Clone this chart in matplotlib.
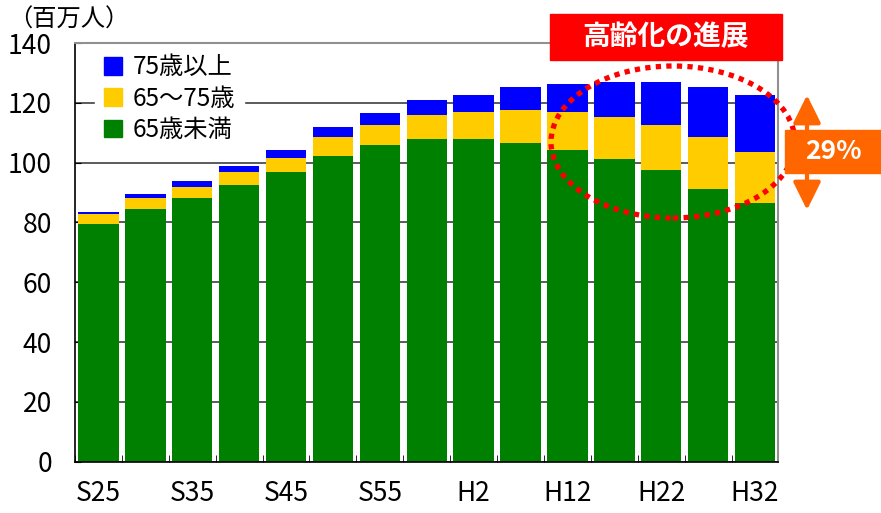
import numpy as np
import matplotlib
matplotlib.use('Agg')
import matplotlib.pyplot as plt
from matplotlib.patches import Patch, Rectangle, Ellipse, FancyArrowPatch

plt.rcParams['font.family'] = ['Liberation Sans Narrow', 'Noto Sans CJK JP', 'DejaVu Sans']

# =============================================================================
# data (millions of people)
# =============================================================================
years = ['S25', 'S30', 'S35', 'S40', 'S45', 'S50', 'S55', 'S60',
         'H2', 'H7', 'H12', 'H17', 'H22', 'H27', 'H32']
shown = ['S25', 'S35', 'S45', 'S55', 'H2', 'H12', 'H22', 'H32']
under65 = [79.6, 84.6, 88.2, 92.6, 96.9, 102.2, 105.9, 107.9,
           107.9, 106.6, 104.2, 101.2, 97.6, 91.2, 86.6]
age65_74 = [3.3, 3.6, 3.7, 4.3, 4.7, 6.4, 6.7, 8.0,
            9.0, 11.0, 12.7, 14.0, 15.0, 17.4, 17.0]
over75 = [0.7, 1.4, 2.0, 2.0, 2.6, 3.3, 4.0, 5.0,
          5.7, 7.6, 9.3, 11.7, 14.3, 16.6, 19.0]
series_names = ['75歳以上', '65～75歳', '65歳未満']
yticks = [0, 20, 40, 60, 80, 100, 120, 140]

c_blue = '#0000FF'
c_yel = '#FFCC00'
c_green = '#008000'
c_orange = '#FF6600'

# =============================================================================
fig = plt.figure(figsize=(8.81, 5.13), dpi=100)
ax = fig.add_axes([75/881, 1-461.7/513, 703.5/881, 418.7/513])

x = np.arange(len(years))
u = np.array(under65)
m = np.array(age65_74)
o = np.array(over75)
w = 0.86
ax.bar(x, u, w, color=c_green, zorder=2)
ax.bar(x, m, w, bottom=u, color=c_yel, zorder=2)
ax.bar(x, o, w, bottom=u+m, color=c_blue, zorder=2)

ax.set_xlim(-0.5, len(years)-0.5)
ax.set_ylim(0, 140)
ax.set_yticks(yticks)
ax.set_yticklabels([str(v) for v in yticks], fontsize=19)
ax.yaxis.grid(True, color='#404040', lw=1.2, zorder=0)
ax.set_axisbelow(True)

# labels under every other bar, small tick marks at bar boundaries
ax.set_xticks([years.index(s) for s in shown])
ax.set_xticklabels(shown, fontsize=19)
ax.tick_params(axis='x', length=0, pad=13)
ax.set_xticks(np.arange(-0.5, len(years)), minor=True)
ax.tick_params(axis='x', which='minor', direction='in', length=5, color='black')
ax.tick_params(axis='y', direction='in', length=4, pad=16.5)

ax.spines['left'].set_color('black')
ax.spines['bottom'].set_color('black')
ax.spines['left'].set_linewidth(1.2)
ax.spines['bottom'].set_linewidth(1.2)
ax.spines['top'].set_color('#909090')
ax.spines['right'].set_color('#909090')
ax.spines['top'].set_linewidth(1.5)
ax.spines['right'].set_linewidth(1.5)

handles = [Patch(color=c_blue), Patch(color=c_yel), Patch(color=c_green)]
leg = ax.legend(handles, series_names, loc='upper left',
                bbox_to_anchor=(20/703.5, 0.995), borderaxespad=0,
                prop={'family': ['Noto Sans CJK JP'], 'size': 17.5},
                frameon=True, fancybox=False,
                edgecolor='white', facecolor='white', framealpha=1,
                handlelength=0.75, handleheight=0.75, handletextpad=0.42,
                labelspacing=0.22, borderpad=0.38)
leg.set_zorder(5)

fig.text(8/881, 1-20/513, '（百万人）', fontsize=17.5, va='center', ha='left',
         family=['Noto Sans CJK JP'])

# =============================================================================
# annotations
# =============================================================================
fig.patches.append(Rectangle((550/881, 1-60/513), 232/881, 46/513,
                             transform=fig.transFigure, color='#FF0000', zorder=6))
fig.text(666/881, 1-37/513, '高齢化の進展', color='white', fontsize=20,
         fontweight='bold', ha='center', va='center', zorder=7,
         family=['Noto Sans CJK JP'])

ell = Ellipse((673/881, 1-142/513), 244/881, 152/513, transform=fig.transFigure,
              fill=False, edgecolor='#FF0000', lw=3.8, linestyle=(0, (1, 1)),
              zorder=6)
ell.set_capstyle('butt')
fig.patches.append(ell)

arr = FancyArrowPatch((807/881, 1-95/513), (807/881, 1-210/513),
                      transform=fig.transFigure,
                      arrowstyle='<|-|>,head_length=0.85,head_width=0.42',
                      mutation_scale=20, lw=3, color=c_orange, zorder=7,
                      shrinkA=0, shrinkB=0)
fig.patches.append(arr)

fig.patches.append(Rectangle((785/881, 1-173/513), 96/881, 43/513,
                             transform=fig.transFigure, color=c_orange, zorder=8))
fig.text(833/881, 1-151.5/513, '29%', color='white', fontsize=19,
         fontweight='bold', ha='center', va='center', zorder=9,
         family=['Noto Sans CJK JP'])

fig.savefig('out.png', dpi=100)
